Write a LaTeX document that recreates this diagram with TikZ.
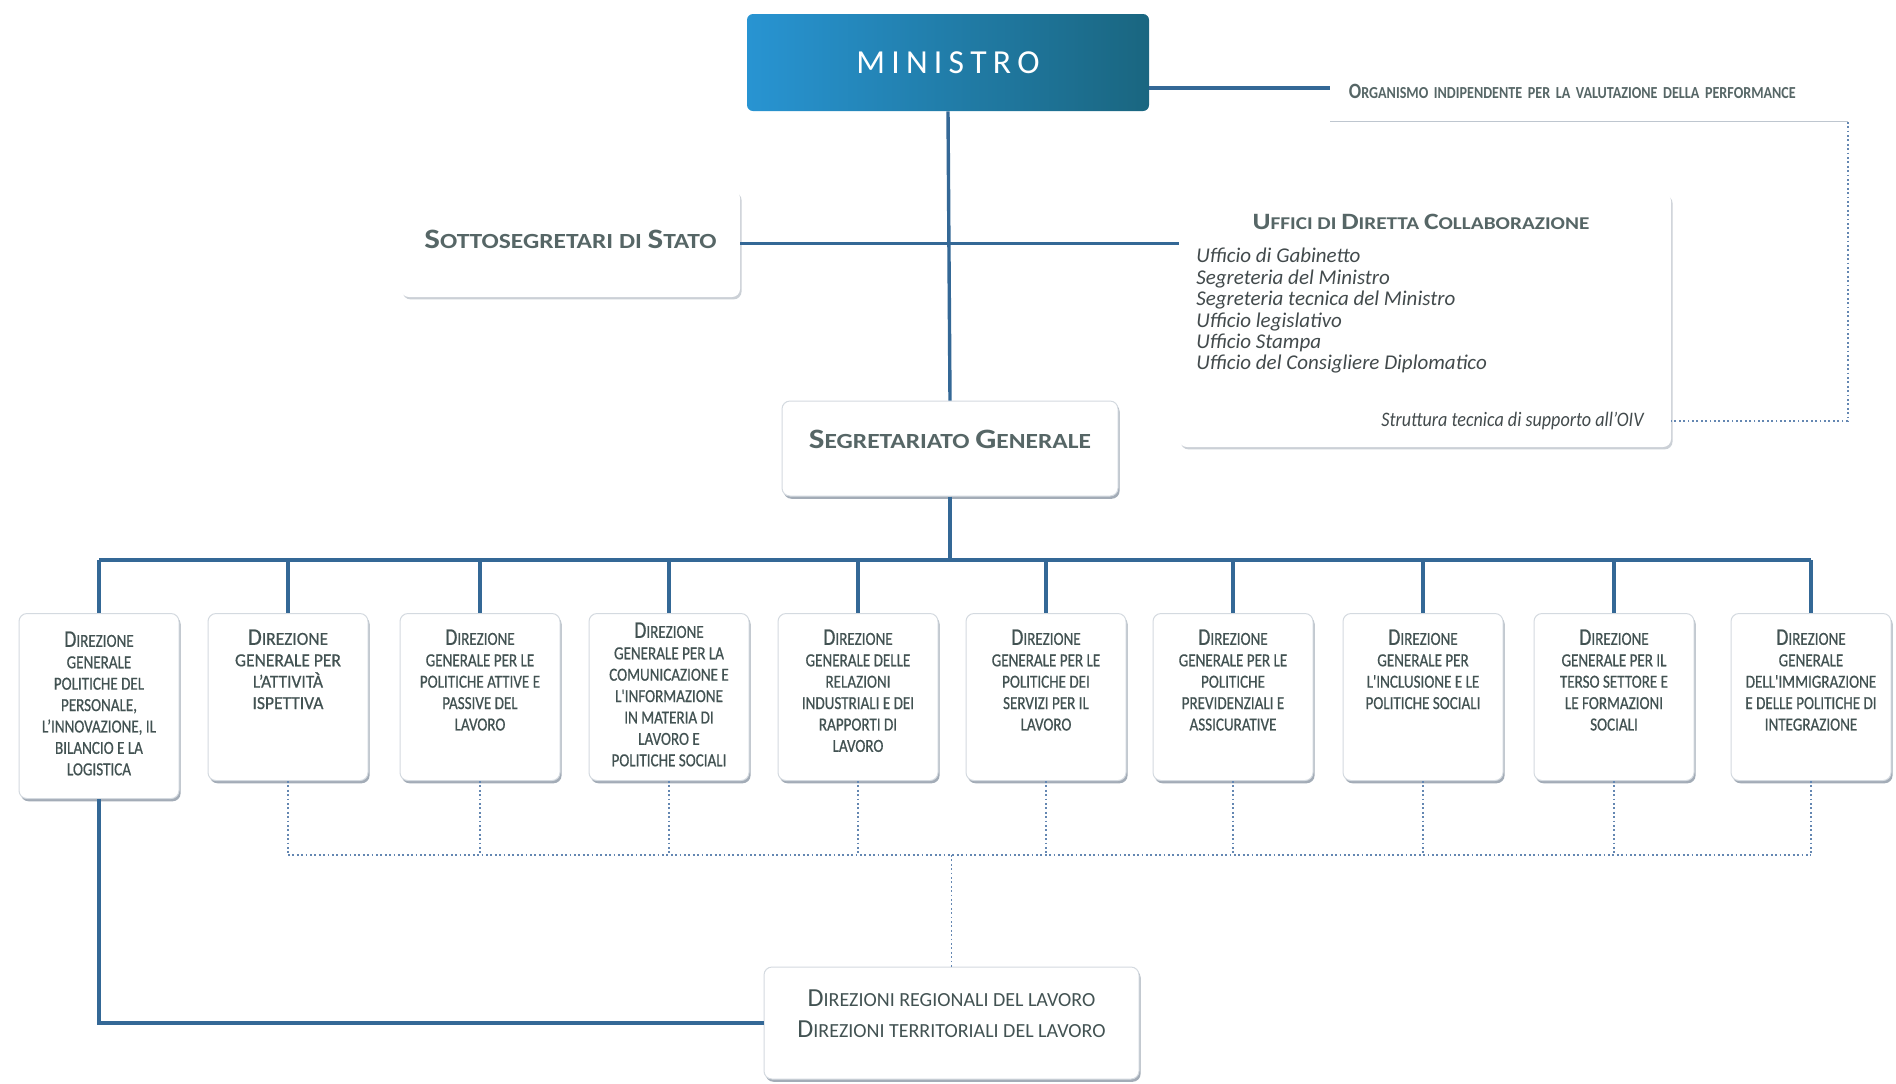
\documentclass[tikz,border=0pt]{standalone}
\usepackage{fontspec}
\setmainfont{Carlito}
\newfontfamily\dgfont[FakeStretch=0.82,FakeBold=0.6]{Carlito}
\newfontfamily\dgwfont[FakeStretch=0.95,FakeBold=0.6]{Carlito}
\newfontfamily\hdfont[FakeStretch=1.18]{Carlito}
\newfontfamily\cnfont[FakeStretch=0.88]{Carlito}
\newfontfamily\oivfont[FakeStretch=0.84]{Carlito}
\usepackage{graphicx}
\usetikzlibrary{shadows}
\definecolor{connc}{RGB}{52,104,150}
\definecolor{dotc}{RGB}{100,135,178}
\definecolor{txtc}{RGB}{66,82,82}
\definecolor{ttlc}{RGB}{86,102,102}
\definecolor{itc}{RGB}{66,74,76}
\definecolor{minL}{RGB}{40,148,210}
\definecolor{minR}{RGB}{26,102,128}
\definecolor{boxln}{RGB}{212,218,224}
\definecolor{shd}{RGB}{140,152,166}
\newcommand\B[1]{\scalebox{1.3}{#1}}
\newcommand\Up[2]{\raisebox{0pt}[\height][\dimexpr\depth+#1\relax]{#2}}
\newcommand\dgtext[4][\dgfont]{\begin{minipage}[t][#2][t]{80pt}\vspace*{#3}\centering#1\fontsize{9.2pt}{10.7pt}\selectfont\color{txtc}#4\end{minipage}}
\newcommand\TT[1]{{\hdfont\bfseries\color{ttlc}\fontsize{10.8pt}{12pt}\selectfont #1}}
\begin{document}
\begin{tikzpicture}[x=0.5pt,y=-0.5pt,
  conn/.style={draw=connc, line width=1.7pt},
  dots/.style={draw=dotc, line width=0.9pt, dash pattern=on 0.9pt off 1.3pt},
  card/.style={draw=boxln, line width=0.5pt, fill=white, rounded corners=4pt,
    drop shadow={shadow xshift=0.8pt, shadow yshift=-1.4pt, fill=shd, opacity=0.8}, inner sep=0pt},
  softcard/.style={draw=none, fill=white, rounded corners=4pt,
    drop shadow={shadow xshift=0.8pt, shadow yshift=-1.2pt, fill=shd, opacity=0.45}, inner sep=0pt},
  dgbox/.style={card, anchor=north}
]
\useasboundingbox (0,0) rectangle (1896,1083);
\fill[white] (0,0) rectangle (1896,1083);

% Ministro
\node[rounded corners=3pt, left color=minL, right color=minR, minimum width=201pt, minimum height=48.5pt, inner sep=0pt,
  text=white, font=\fontsize{16.8pt}{16.8pt}\selectfont] (mini) at (948,62.5)
  {M\kern3.1pt I\kern3.1pt N\kern3.1pt I\kern3.1pt S\kern3.1pt T\kern3.1pt R\kern3.1pt O};

% OIV
\node[anchor=north west, minimum width=258.5pt, minimum height=29.5pt, inner xsep=9pt, inner ysep=0pt,
  text width=240pt, align=left, font=\oivfont\bfseries\fontsize{8.4pt}{9pt}\selectfont, text=ttlc] (oiv) at (1330,62)
  {\B{O}RGANISMO INDIPENDENTE PER LA VALUTAZIONE DELLA PERFORMANCE};
\draw[boxln!70!shd, line width=0.6pt] (oiv.south west) -- (oiv.south east);
\coordinate (oivl) at (1330,88);
\draw[conn] (mini.east |- oivl) -- (oivl);

% Sottosegretari
\node[softcard, minimum width=169.5pt, minimum height=53.5pt] (sotto) at (570.5,243.5)
  {\Up{4.5pt}{\TT{\B{S}OTTOSEGRETARI DI \B{S}TATO}}};

% Uffici
\node[softcard, minimum width=246pt, minimum height=127pt] (uff) at (1425,320) {};
\node[inner sep=0pt] (ufft) at (1421,222)
  {{\hdfont\bfseries\color{ttlc}\fontsize{9pt}{11pt}\selectfont \B{U}FFICI DI \B{D}IRETTA \B{C}OLLABORAZIONE}};
\node[anchor=north west, inner sep=0pt, align=left, text=itc, font=\itshape\fontsize{10.5pt}{10.7pt}\selectfont] (ufl) at (1196,248)
  {Ufficio di Gabinetto\\Segreteria del Ministro\\Segreteria tecnica del Ministro\\Ufficio legislativo\\Ufficio Stampa\\Ufficio del Consigliere Diplomatico};
\node[anchor=east, inner sep=0pt, text=itc, font=\cnfont\itshape\fontsize{10.3pt}{10.6pt}\selectfont] (strut) at (1644,421)
  {Struttura tecnica di supporto all’OIV};
\draw[dots] (oiv.south east) |- (uff.east |- strut);

% Segretariato
\node[card, minimum width=168pt, minimum height=47.5pt] (segr) at (950,448.5)
  {\Up{9.5pt}{\TT{\B{S}EGRETARIATO \B{G}ENERALE}}};

% Direzioni generali
\node[dgbox] (d1) at (99,613) {\dgtext{92.5pt}{9pt}{\B{D}IREZIONE\\GENERALE\\POLITICHE DEL\\PERSONALE,\\L’INNOVAZIONE, IL\\BILANCIO E LA\\LOGISTICA}};
\node[dgbox] (d2) at (288,613) {\dgtext[\dgwfont]{83.5pt}{8pt}{\B{D}IREZIONE\\GENERALE PER\\L’ATTIVITÀ\\ISPETTIVA}};
\node[dgbox] (d3) at (480,613) {\dgtext{83.5pt}{8pt}{\B{D}IREZIONE\\GENERALE PER LE\\POLITICHE ATTIVE E\\PASSIVE DEL\\LAVORO}};
\node[dgbox] (d4) at (669,613) {\dgtext{83.5pt}{4.5pt}{\B{D}IREZIONE\\GENERALE PER LA\\COMUNICAZIONE E\\L'INFORMAZIONE\\IN MATERIA DI\\LAVORO E\\POLITICHE SOCIALI}};
\node[dgbox] (d5) at (858,613) {\dgtext{83.5pt}{8pt}{\B{D}IREZIONE\\GENERALE DELLE\\RELAZIONI\\INDUSTRIALI E DEI\\RAPPORTI DI\\LAVORO}};
\node[dgbox] (d6) at (1046,613) {\dgtext{83.5pt}{8pt}{\B{D}IREZIONE\\GENERALE PER LE\\POLITICHE DEI\\SERVIZI PER IL\\LAVORO}};
\node[dgbox] (d7) at (1233,613) {\dgtext{83.5pt}{8pt}{\B{D}IREZIONE\\GENERALE PER LE\\POLITICHE\\PREVIDENZIALI E\\ASSICURATIVE}};
\node[dgbox] (d8) at (1423,613) {\dgtext{83.5pt}{8pt}{\B{D}IREZIONE\\GENERALE PER\\L'INCLUSIONE E LE\\POLITICHE SOCIALI}};
\node[dgbox] (d9) at (1614,613) {\dgtext{83.5pt}{8pt}{\B{D}IREZIONE\\GENERALE PER IL\\TERSO SETTORE E\\LE FORMAZIONI\\SOCIALI}};
\node[dgbox] (d10) at (1811,613) {\dgtext{83.5pt}{8pt}{\B{D}IREZIONE\\GENERALE\\DELL'IMMIGRAZIONE\\E DELLE POLITICHE DI\\INTEGRAZIONE}};

% Direzioni regionali
\node[card, minimum width=187.5pt, minimum height=56pt] (reg) at (951.5,1023)
  {\Up{9pt}{\begin{minipage}{185pt}\centering\color{txtc}\fontsize{10pt}{15.5pt}\selectfont
  \B{D}IREZIONI REGIONALI DEL LAVORO\\\B{D}IREZIONI TERRITORIALI DEL LAVORO\end{minipage}}};

% Connectors
\draw[conn] (mini.south) -- (segr.north);
\draw[conn] (sotto.east) -- (sotto.east -| uff.west);
\coordinate (bus) at (0,560);
\draw[conn] (segr.south) -- (segr.south |- bus);
\draw[conn] (d1.north |- bus) -- (d10.north |- bus);
\foreach \i in {1,...,10} {\draw[conn] (d\i.north |- bus) -- (d\i.north);}
\draw[conn] (d1.south) |- (reg.west);

\coordinate (dbus) at (0,855);
\draw[dots] (d2.south |- dbus) -- (d10.south |- dbus);
\foreach \i in {2,...,10} {\draw[dots] (d\i.south) -- (d\i.south |- dbus);}
\draw[dots] (reg.north |- dbus) -- (reg.north);
\end{tikzpicture}
\end{document}
